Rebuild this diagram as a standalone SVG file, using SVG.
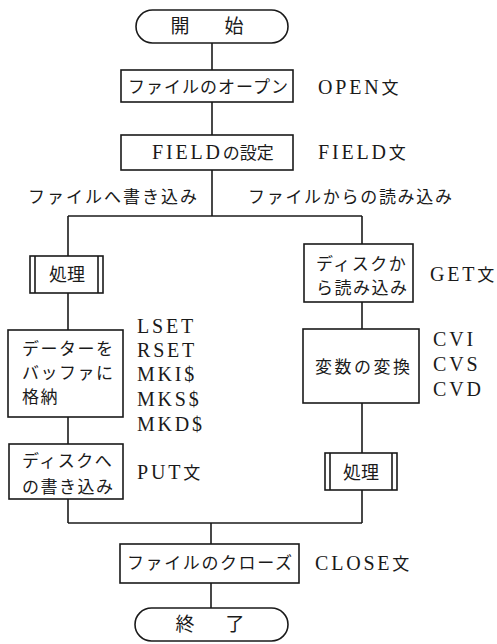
<svg xmlns="http://www.w3.org/2000/svg" width="497" height="644" viewBox="0 0 497 644">
<style>
  .bx { fill: #fff; stroke: #1a1a1a; stroke-width: 1.6; }
  .ln { fill: none; stroke: #1a1a1a; stroke-width: 1.6; }
  text { font-family: "Liberation Serif", "Noto Sans CJK JP", serif; fill: #1a1a1a; }
  .j { font-family: "Noto Sans CJK JP", "Liberation Serif", sans-serif; font-size: 17px; }
  .l { font-family: "Liberation Serif", "Noto Sans CJK JP", serif; font-size: 20px; letter-spacing: 2.8px; }
  .lj { font-family: "Noto Sans CJK JP", sans-serif; font-size: 17px; letter-spacing: 0; }
</style>
<rect width="497" height="644" fill="#fff"/>

<g id="connectors">
  <path class="ln" d="M212 42 V70"/>
  <path class="ln" d="M212 102 V135"/>
  <path class="ln" d="M212 170 V216"/>
  <path class="ln" d="M68 216 H362"/>
  <path class="ln" d="M68 216 V256"/>
  <path class="ln" d="M68 293 V330"/>
  <path class="ln" d="M68 417 V444"/>
  <path class="ln" d="M68 499 V523"/>
  <path class="ln" d="M362 216 V244"/>
  <path class="ln" d="M362 302 V329"/>
  <path class="ln" d="M362 403 V453"/>
  <path class="ln" d="M362 490 V523"/>
  <path class="ln" d="M68 523 H362"/>
  <path class="ln" d="M211 523 V544"/>
  <path class="ln" d="M211 583 V608"/>
</g>

<g id="start">
  <rect class="bx" x="136" y="10" width="152" height="33" rx="16.5"/>
  <text class="j" text-anchor="middle" y="33" style="font-size:19px"><tspan x="180">開</tspan><tspan x="234">始</tspan></text>
</g>

<g id="open">
  <rect class="bx" x="121" y="70" width="172" height="32"/>
  <text class="j" x="128" y="93" letter-spacing="1">ファイルのオープン</text>
  <text class="l" x="318" y="94">OPEN<tspan class="lj">文</tspan></text>
</g>

<g id="field">
  <rect class="bx" x="121" y="135" width="172" height="35"/>
  <text class="j" x="152" y="159"><tspan class="l" letter-spacing="1.5">FIELD</tspan>の設定</text>
  <text class="l" x="318" y="159">FIELD<tspan class="lj">文</tspan></text>
</g>

<g id="labels">
  <text class="j" x="28" y="203" letter-spacing="2">ファイルへ書き込み</text>
  <text class="j" x="248" y="203" letter-spacing="1.7">ファイルからの読み込み</text>
</g>

<g id="proc-left">
  <rect class="bx" x="30" y="256" width="73" height="37"/>
  <path class="ln" d="M35 256 V293 M98 256 V293"/>
  <text class="j" x="67" y="281" text-anchor="middle" style="font-size:18px">処理</text>
</g>

<g id="buffer">
  <rect class="bx" x="8" y="330" width="115" height="87"/>
  <text class="j" x="22" y="355" letter-spacing="1.5">データーを</text>
  <text class="j" x="22" y="379" letter-spacing="1.5">バッファに</text>
  <text class="j" x="22" y="403" letter-spacing="1.5">格納</text>
  <text class="l" x="137" y="333">LSET</text>
  <text class="l" x="137" y="357">RSET</text>
  <text class="l" x="137" y="381">MKI$</text>
  <text class="l" x="137" y="406">MKS$</text>
  <text class="l" x="137" y="431">MKD$</text>
</g>

<g id="write-disk">
  <rect class="bx" x="9" y="444" width="114" height="55"/>
  <text class="j" x="22" y="467" letter-spacing="1.5">ディスクへ</text>
  <text class="j" x="22" y="493" letter-spacing="1.5">の書き込み</text>
  <text class="l" x="137" y="479">PUT<tspan class="lj">文</tspan></text>
</g>

<g id="read-disk">
  <rect class="bx" x="304" y="244" width="109" height="58"/>
  <text class="j" x="316" y="270" letter-spacing="1.5">ディスクか</text>
  <text class="j" x="316" y="294" letter-spacing="1.5">ら読み込み</text>
  <text class="l" x="430" y="281">GET<tspan class="lj">文</tspan></text>
</g>

<g id="convert">
  <rect class="bx" x="303" y="329" width="116" height="74"/>
  <text class="j" x="315" y="373" letter-spacing="2.5">変数の変換</text>
  <text class="l" x="433" y="346">CVI</text>
  <text class="l" x="433" y="371">CVS</text>
  <text class="l" x="433" y="396">CVD</text>
</g>

<g id="proc-right">
  <rect class="bx" x="325" y="453" width="72" height="37"/>
  <path class="ln" d="M330 453 V490 M392 453 V490"/>
  <text class="j" x="361" y="479" text-anchor="middle" style="font-size:18px">処理</text>
</g>

<g id="close">
  <rect class="bx" x="120" y="544" width="179" height="39"/>
  <text class="j" x="127" y="569" letter-spacing="1.6">ファイルのクローズ</text>
  <text class="l" x="315" y="570">CLOSE<tspan class="lj">文</tspan></text>
</g>

<g id="end">
  <rect class="bx" x="135" y="608" width="153" height="33" rx="16.5"/>
  <text class="j" text-anchor="middle" y="631" style="font-size:19px"><tspan x="185">終</tspan><tspan x="235">了</tspan></text>
</g>
</svg>
